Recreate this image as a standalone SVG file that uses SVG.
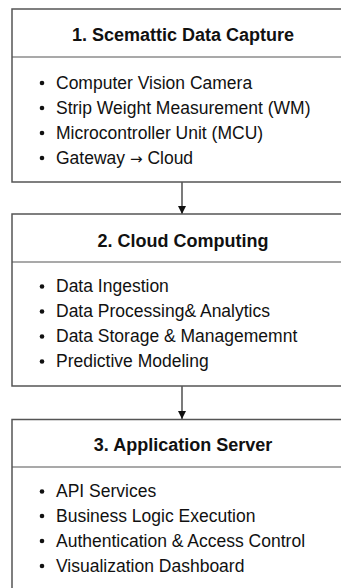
<svg xmlns="http://www.w3.org/2000/svg" width="341" height="588" viewBox="0 0 341 588">
<defs>
<style>
.box{fill:#fff;stroke:#555;stroke-width:1.5}
.div{stroke:#555;stroke-width:1.2}
.title{font-family:"Liberation Sans",Arial,sans-serif;font-weight:bold;font-size:18px;fill:#111;text-anchor:middle}
.item{font-family:"Liberation Sans",Arial,sans-serif;font-size:17.5px;fill:#111}
.sym{font-family:"DejaVu Sans",sans-serif;font-size:15px}
.dot{fill:#111}
.conn{stroke:#333;stroke-width:1.3;fill:none}
</style>
<marker id="arr" viewBox="0 0 10 10" refX="10" refY="5" markerWidth="8" markerHeight="8" markerUnits="userSpaceOnUse" orient="auto">
<path d="M0,0 L10,5 L0,10 z" fill="#111"/>
</marker>
</defs>
<rect width="341" height="588" fill="#fff"/>
<g id="connectors">
<line class="conn" x1="182" y1="182" x2="182" y2="214" marker-end="url(#arr)"/>
<line class="conn" x1="182" y1="386" x2="182" y2="419" marker-end="url(#arr)"/>
</g>
<g id="node1">
<rect class="box" x="12" y="9" width="342" height="173"/>
<line class="div" x1="12" y1="57" x2="354" y2="57"/>
<text class="title" x="183" y="41">1. Scemattic Data Capture</text>
<circle class="dot" cx="42" cy="83" r="2.3"/>
<text class="item" x="56" y="88.5">Computer Vision Camera</text>
<circle class="dot" cx="42" cy="108" r="2.3"/>
<text class="item" x="56" y="113.5">Strip Weight Measurement (WM)</text>
<circle class="dot" cx="42" cy="133" r="2.3"/>
<text class="item" x="56" y="138.5">Microcontroller Unit (MCU)</text>
<circle class="dot" cx="42" cy="158" r="2.3"/>
<text class="item" x="56" y="163.5">Gateway <tspan class="sym">→</tspan> Cloud</text>
</g>
<g id="node2">
<rect class="box" x="12" y="214" width="342" height="172"/>
<line class="div" x1="12" y1="262" x2="354" y2="262"/>
<text class="title" x="183" y="247">2. Cloud Computing</text>
<circle class="dot" cx="42" cy="286.5" r="2.3"/>
<text class="item" x="56" y="292">Data Ingestion</text>
<circle class="dot" cx="42" cy="311.5" r="2.3"/>
<text class="item" x="56" y="317">Data Processing&amp; Analytics</text>
<circle class="dot" cx="42" cy="336.5" r="2.3"/>
<text class="item" x="56" y="342">Data Storage &amp; Managememnt</text>
<circle class="dot" cx="42" cy="361.5" r="2.3"/>
<text class="item" x="56" y="367">Predictive Modeling</text>
</g>
<g id="node3">
<rect class="box" x="12" y="419.5" width="342" height="200"/>
<line class="div" x1="12" y1="467" x2="354" y2="467"/>
<text class="title" x="183" y="451">3. Application Server</text>
<circle class="dot" cx="42" cy="491.5" r="2.3"/>
<text class="item" x="56" y="497">API Services</text>
<circle class="dot" cx="42" cy="516" r="2.3"/>
<text class="item" x="56" y="521.5">Business Logic Execution</text>
<circle class="dot" cx="42" cy="541" r="2.3"/>
<text class="item" x="56" y="546.5">Authentication &amp; Access Control</text>
<circle class="dot" cx="42" cy="566" r="2.3"/>
<text class="item" x="56" y="571.5">Visualization Dashboard</text>
</g>
</svg>
